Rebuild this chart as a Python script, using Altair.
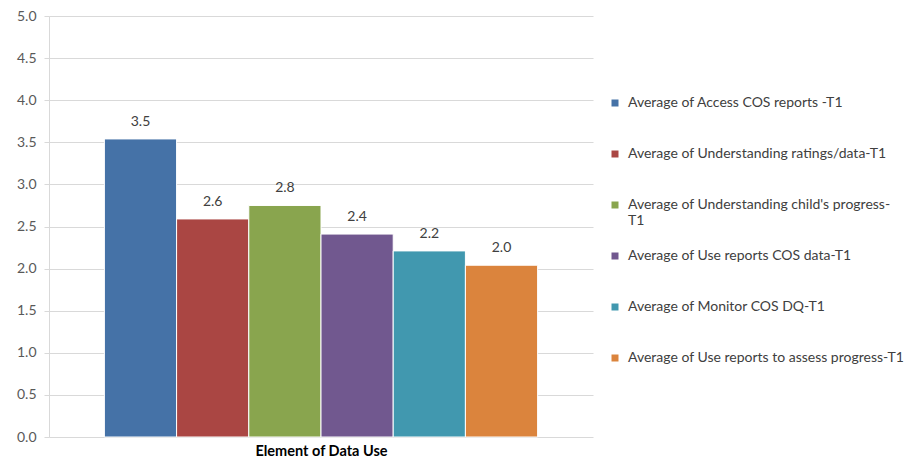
import altair as alt
import pandas as pd

series = [
    "Average of Access COS reports -T1",
    "Average of Understanding ratings/data-T1",
    "Average of Understanding child's progress-T1",
    "Average of Use reports COS data-T1",
    "Average of Monitor COS DQ-T1",
    "Average of Use reports to assess progress-T1",
]
values = [3.54, 2.59, 2.75, 2.41, 2.21, 2.04]
colors = ["#4572A7", "#AA4643", "#89A54E", "#71588F", "#4198AF", "#DB843D"]
y_ticks = [0, 0.5, 1, 1.5, 2, 2.5, 3, 3.5, 4, 4.5, 5]

df = pd.DataFrame({"series": series, "value": values})

FONT = "Lato"

x = alt.X(
    "series:N",
    sort=series,
    scale=alt.Scale(paddingInner=0, paddingOuter=0.767),
    axis=alt.Axis(
        labels=False, ticks=False, domain=False,
        title="Element of Data Use", titleFontWeight="bold", titleFontSize=14.5,
        titleColor="#000000", titleFont=FONT, titlePadding=7,
    ),
)
y = alt.Y(
    "value:Q",
    scale=alt.Scale(domain=[0, 5], nice=False),
    axis=alt.Axis(
        values=y_ticks, format=".1f", title=None,
        gridColor="#D9D9D9", tickColor="#D9D9D9", domainColor="#D9D9D9",
        tickSize=5, labelPadding=8, labelFontSize=14, labelColor="#595959",
        labelFont=FONT,
    ),
)

bars = alt.Chart(df).mark_bar(stroke="white", strokeWidth=1).encode(
    x=x,
    y=y,
    color=alt.Color(
        "series:N",
        scale=alt.Scale(domain=series, range=colors),
        legend=alt.Legend(
            title=None, orient="none", legendX=559, legendY=80,
            symbolType="square", symbolSize=49, symbolStrokeWidth=0,
            labelFontSize=14, labelColor="#404040", labelFont=FONT,
            labelLimit=400, labelOffset=6, rowPadding=21, padding=0,
            gridAlign="all",
            labelExpr='split(replace(datum.label, "child\'s progress-T1", "child\'s progress-|T1"), "|")',
        ),
    ),
)

labels = alt.Chart(df).mark_text(
    baseline="middle", dy=-17, fontSize=14, color="#404040", font=FONT
).encode(
    x=alt.X("series:N", sort=series),
    y="value:Q",
    text=alt.Text("value:Q", format=".1f"),
)

chart = (
    alt.layer(bars, labels)
    .properties(width=544, height=421, padding={"left": 8, "top": 1, "right": 0, "bottom": 0})
    .configure_view(stroke=None)
)

chart.save("out.html", embed_options={"renderer": "svg", "actions": False})
